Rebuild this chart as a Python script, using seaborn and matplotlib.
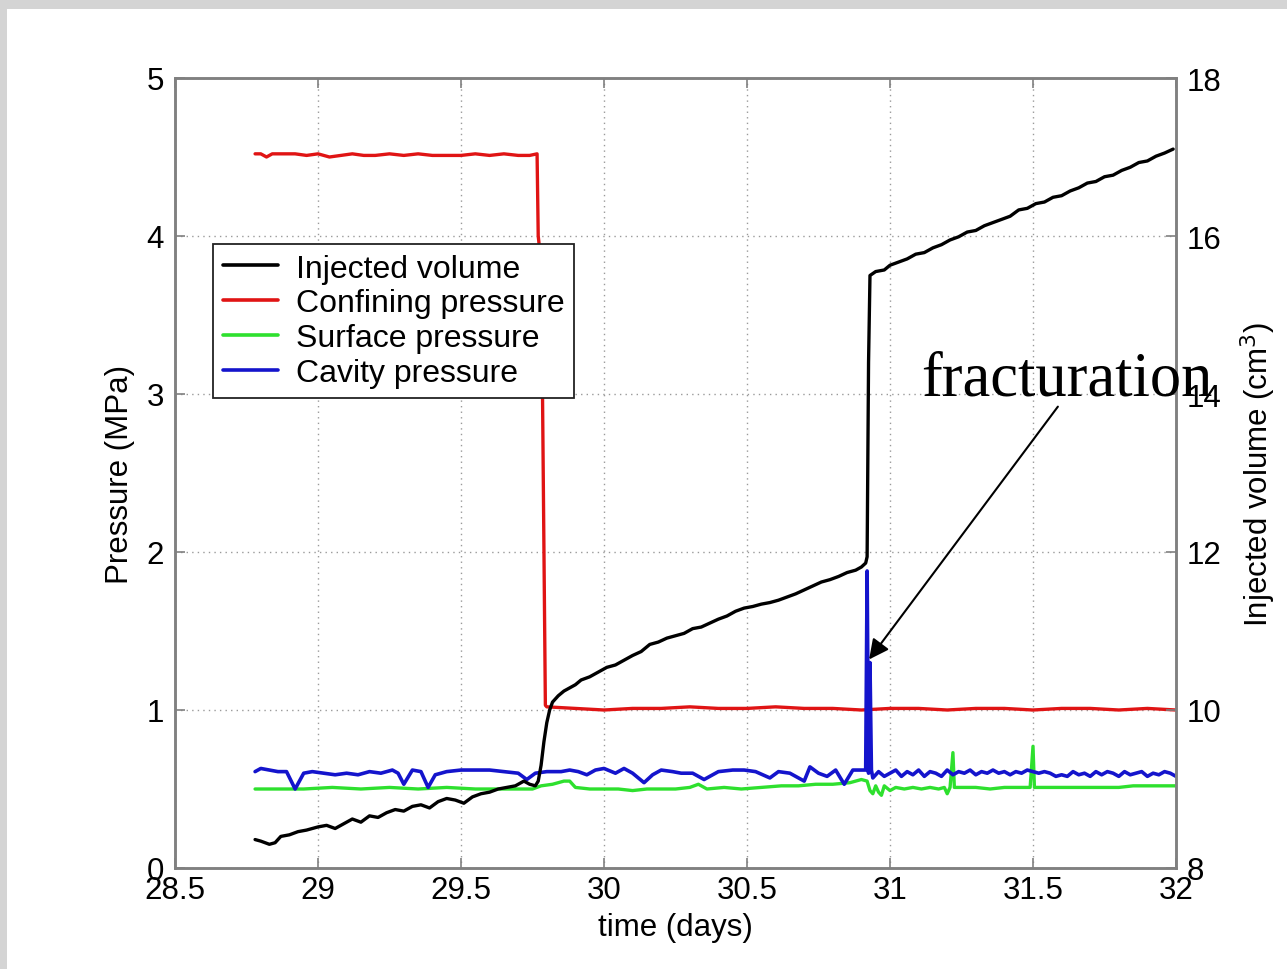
import matplotlib
matplotlib.use("Agg")
import matplotlib.pyplot as plt
from matplotlib.lines import Line2D
from matplotlib.patches import Rectangle
import seaborn as sns
import pandas as pd

# ---------------- data ----------------
t_volume = [28.78, 28.80, 28.83, 28.85, 28.87, 28.90, 28.93, 28.96, 29.00, 29.03,
            29.06, 29.09, 29.12, 29.15, 29.18, 29.21, 29.24, 29.27, 29.30, 29.33,
            29.36, 29.39, 29.42, 29.45, 29.48, 29.51, 29.54, 29.57, 29.60, 29.63,
            29.66, 29.69, 29.72, 29.74, 29.76, 29.77, 29.78, 29.79, 29.80, 29.81,
            29.82, 29.84, 29.86, 29.88, 29.90, 29.92, 29.95, 29.98, 30.01, 30.04,
            30.07, 30.10, 30.13, 30.16, 30.19, 30.22, 30.25, 30.28, 30.31, 30.34,
            30.37, 30.40, 30.43, 30.46, 30.49, 30.52, 30.55, 30.58, 30.61, 30.64,
            30.67, 30.70, 30.73, 30.76, 30.79, 30.82, 30.85, 30.88, 30.90, 30.915,
            30.92, 30.925, 30.93, 30.95, 30.98, 31.00, 31.03, 31.06, 31.09, 31.12,
            31.15, 31.18, 31.21, 31.24, 31.27, 31.30, 31.33, 31.36, 31.39, 31.42,
            31.45, 31.48, 31.51, 31.54, 31.57, 31.60, 31.63, 31.66, 31.69, 31.72,
            31.75, 31.78, 31.81, 31.84, 31.87, 31.90, 31.93, 31.96, 31.99]
injected_volume = [8.36, 8.34, 8.30, 8.32, 8.40, 8.42, 8.46, 8.48, 8.52, 8.54,
                   8.50, 8.56, 8.62, 8.58, 8.66, 8.64, 8.70, 8.74, 8.72, 8.78,
                   8.80, 8.76, 8.84, 8.88, 8.86, 8.82, 8.90, 8.94, 8.96, 9.00,
                   9.02, 9.04, 9.10, 9.06, 9.04, 9.10, 9.30, 9.60, 9.84, 10.00,
                   10.10, 10.18, 10.24, 10.28, 10.32, 10.38, 10.42, 10.48, 10.54, 10.57,
                   10.63, 10.69, 10.74, 10.83, 10.86, 10.91, 10.94, 10.97, 11.03, 11.05,
                   11.10, 11.15, 11.19, 11.25, 11.29, 11.31, 11.34, 11.36, 11.39, 11.43,
                   11.47, 11.52, 11.57, 11.62, 11.65, 11.69, 11.74, 11.77, 11.81, 11.86,
                   11.94, 14.40, 15.50, 15.55, 15.57, 15.63, 15.67, 15.71, 15.77, 15.79,
                   15.85, 15.89, 15.95, 15.99, 16.05, 16.07, 16.13, 16.17, 16.21, 16.25,
                   16.33, 16.35, 16.41, 16.43, 16.49, 16.51, 16.57, 16.61, 16.67, 16.69,
                   16.75, 16.77, 16.83, 16.87, 16.93, 16.95, 17.01, 17.05, 17.10]

t_confining = [28.78, 28.80, 28.82, 28.84, 28.88, 28.92, 28.96, 29.00, 29.04, 29.08,
               29.12, 29.16, 29.20, 29.25, 29.30, 29.35, 29.40, 29.45, 29.50, 29.55,
               29.60, 29.65, 29.70, 29.74, 29.766, 29.770, 29.776, 29.785, 29.795, 29.80,
               29.90, 30.00, 30.10, 30.20, 30.30, 30.40, 30.50, 30.60, 30.70, 30.80,
               30.90, 31.00, 31.10, 31.20, 31.30, 31.40, 31.50, 31.60, 31.70, 31.80,
               31.90, 32.00]
confining_pressure = [4.52, 4.52, 4.50, 4.52, 4.52, 4.52, 4.51, 4.52, 4.50, 4.51,
                      4.52, 4.51, 4.51, 4.52, 4.51, 4.52, 4.51, 4.51, 4.51, 4.52,
                      4.51, 4.52, 4.51, 4.51, 4.52, 4.00, 3.90, 3.00, 1.03, 1.02,
                      1.01, 1.00, 1.01, 1.01, 1.02, 1.01, 1.01, 1.02, 1.01, 1.01,
                      1.00, 1.01, 1.01, 1.00, 1.01, 1.01, 1.00, 1.01, 1.01, 1.00,
                      1.01, 1.00]

t_surface = [28.78, 28.85, 28.95, 29.05, 29.15, 29.25, 29.35, 29.45, 29.55, 29.65,
             29.75, 29.78, 29.82, 29.86, 29.88, 29.90, 29.95, 30.00, 30.05, 30.10,
             30.15, 30.20, 30.25, 30.30, 30.33, 30.36, 30.42, 30.48, 30.55, 30.62,
             30.68, 30.74, 30.80, 30.86, 30.90, 30.92, 30.93, 30.94, 30.95, 30.96,
             30.97, 30.98, 31.00, 31.02, 31.05, 31.08, 31.11, 31.14, 31.17, 31.19,
             31.20, 31.21, 31.22, 31.225, 31.25, 31.30, 31.35, 31.40, 31.45, 31.49,
             31.50, 31.505, 31.55, 31.60, 31.65, 31.70, 31.75, 31.80, 31.85, 31.90,
             31.95, 32.00]
surface_pressure = [0.50, 0.50, 0.50, 0.51, 0.50, 0.51, 0.50, 0.51, 0.50, 0.50,
                    0.50, 0.52, 0.53, 0.55, 0.55, 0.51, 0.50, 0.50, 0.50, 0.49,
                    0.50, 0.50, 0.50, 0.51, 0.53, 0.50, 0.51, 0.50, 0.51, 0.52,
                    0.52, 0.53, 0.53, 0.54, 0.56, 0.55, 0.49, 0.47, 0.52, 0.48,
                    0.46, 0.52, 0.49, 0.51, 0.50, 0.51, 0.50, 0.51, 0.50, 0.51,
                    0.47, 0.51, 0.73, 0.51, 0.51, 0.51, 0.50, 0.51, 0.51, 0.51,
                    0.77, 0.51, 0.51, 0.51, 0.51, 0.51, 0.51, 0.51, 0.52, 0.52,
                    0.52, 0.52]

t_cavity = [28.78, 28.80, 28.83, 28.86, 28.89, 28.92, 28.95, 28.98, 29.02, 29.06,
            29.10, 29.14, 29.18, 29.22, 29.26, 29.28, 29.30, 29.33, 29.36, 29.385,
            29.41, 29.45, 29.50, 29.55, 29.60, 29.65, 29.70, 29.73, 29.76, 29.80,
            29.85, 29.88, 29.91, 29.94, 29.97, 30.00, 30.04, 30.07, 30.10, 30.14,
            30.17, 30.20, 30.24, 30.27, 30.31, 30.35, 30.40, 30.45, 30.49, 30.53,
            30.58, 30.61, 30.65, 30.70, 30.72, 30.75, 30.78, 30.81, 30.84, 30.87,
            30.90, 30.915, 30.920, 30.925, 30.930, 30.935, 30.94, 30.96, 30.98, 31.00,
            31.02, 31.04, 31.06, 31.08, 31.10, 31.12, 31.14, 31.16, 31.18, 31.20,
            31.22, 31.24, 31.26, 31.28, 31.30, 31.32, 31.34, 31.36, 31.38, 31.40,
            31.42, 31.44, 31.46, 31.48, 31.50, 31.52, 31.54, 31.56, 31.58, 31.60,
            31.62, 31.64, 31.66, 31.68, 31.70, 31.72, 31.74, 31.76, 31.78, 31.80,
            31.82, 31.84, 31.86, 31.88, 31.90, 31.92, 31.94, 31.96, 31.98, 32.00]
cavity_pressure = [0.61, 0.63, 0.62, 0.61, 0.61, 0.50, 0.60, 0.61, 0.60, 0.59,
                   0.60, 0.59, 0.61, 0.60, 0.62, 0.60, 0.53, 0.62, 0.61, 0.51,
                   0.59, 0.61, 0.62, 0.62, 0.62, 0.61, 0.60, 0.56, 0.60, 0.61,
                   0.61, 0.62, 0.61, 0.59, 0.62, 0.63, 0.60, 0.63, 0.60, 0.54,
                   0.59, 0.62, 0.61, 0.60, 0.60, 0.56, 0.61, 0.62, 0.62, 0.61,
                   0.57, 0.61, 0.60, 0.55, 0.64, 0.60, 0.58, 0.62, 0.53, 0.62,
                   0.62, 0.62, 1.88, 0.60, 1.30, 0.62, 0.57, 0.61, 0.58, 0.60,
                   0.62, 0.58, 0.61, 0.59, 0.62, 0.58, 0.61, 0.60, 0.58, 0.62,
                   0.59, 0.61, 0.60, 0.62, 0.59, 0.61, 0.60, 0.62, 0.60, 0.61,
                   0.59, 0.61, 0.60, 0.62, 0.61, 0.60, 0.61, 0.60, 0.58, 0.59,
                   0.58, 0.61, 0.59, 0.60, 0.58, 0.61, 0.59, 0.61, 0.60, 0.58,
                   0.61, 0.59, 0.60, 0.61, 0.58, 0.60, 0.59, 0.61, 0.60, 0.58]

x_ticks = [28.5, 29, 29.5, 30, 30.5, 31, 31.5, 32]
x_tick_labels = ["28.5", "29", "29.5", "30", "30.5", "31", "31.5", "32"]
left_ticks = [0, 1, 2, 3, 4, 5]
right_ticks = [8, 10, 12, 14, 16, 18]
legend_labels = ["Injected volume", "Confining pressure", "Surface pressure", "Cavity pressure"]

# ---------------- style ----------------
sns.set_style("white")
plt.rcParams["font.family"] = ["Liberation Sans", "DejaVu Sans"]
plt.rcParams["text.color"] = "black"
plt.rcParams["axes.labelcolor"] = "black"
plt.rcParams["xtick.color"] = "black"
plt.rcParams["ytick.color"] = "black"

C_BLACK = "#000000"
C_RED = "#e01414"
C_GREEN = "#2ee02e"
C_BLUE = "#1414cc"
SPINE = "#808080"

fig = plt.figure(figsize=(12.87, 9.70), dpi=100)
fig.patch.set_facecolor("#d4d4d4")
fig.patches.append(Rectangle((7 / 1287, 0), 1 - 7 / 1287, 1 - 10 / 970,
                             transform=fig.transFigure, facecolor="white",
                             edgecolor="none", zorder=-10))

ax = fig.add_axes([175 / 1287, 101 / 970, 1001 / 1287, 790 / 970])
ax.set_facecolor("white")
ax2 = ax.twinx()

df_conf = pd.DataFrame({"t": t_confining, "p": confining_pressure})
df_surf = pd.DataFrame({"t": t_surface, "p": surface_pressure})
df_cav = pd.DataFrame({"t": t_cavity, "p": cavity_pressure})
df_vol = pd.DataFrame({"t": t_volume, "v": injected_volume})

lw = 2.4
sns.lineplot(data=df_conf, x="t", y="p", ax=ax, color=C_RED, lw=lw, estimator=None, sort=False)
sns.lineplot(data=df_surf, x="t", y="p", ax=ax, color=C_GREEN, lw=lw, estimator=None, sort=False)
sns.lineplot(data=df_cav, x="t", y="p", ax=ax, color=C_BLUE, lw=2.6, estimator=None, sort=False)
sns.lineplot(data=df_vol, x="t", y="v", ax=ax2, color=C_BLACK, lw=lw, estimator=None, sort=False)

ax.set_xlim(28.5, 32)
ax.set_ylim(0, 5)
ax2.set_ylim(8, 18)
ax.set_xticks(x_ticks)
ax.set_xticklabels(x_tick_labels)
ax.set_yticks(left_ticks)
ax2.set_yticks(right_ticks)

ax.grid(True, color="#9a9a9a", linestyle=(0, (1, 3)), lw=1.0)
ax2.grid(False)

FS = 22.5
ax.set_xlabel("time (days)", fontsize=FS, labelpad=5)
ax.set_ylabel("Pressure (MPa)", fontsize=FS, labelpad=8)
ax2.set_ylabel("Injected volume (cm$^3$)", fontsize=FS, labelpad=12)

for a in (ax, ax2):
    for s in a.spines.values():
        s.set_color(SPINE)
        s.set_linewidth(1.8)
        s.set_visible(True)
ax.tick_params(axis="x", direction="in", length=7, width=1.2, color=SPINE,
               labelcolor="black", labelsize=FS, top=True, bottom=True, pad=5)
ax.tick_params(axis="y", direction="in", length=7, width=1.2, color=SPINE,
               labelcolor="black", labelsize=FS, left=True, right=False, pad=8)
ax2.tick_params(axis="y", direction="in", length=7, width=1.2, color=SPINE,
                labelcolor="black", labelsize=FS, right=True, pad=8)

handles = [Line2D([], [], color=c, lw=2.6) for c in (C_BLACK, C_RED, C_GREEN, C_BLUE)]
leg = ax2.legend(handles, legend_labels, loc="upper left",
                 bbox_to_anchor=(213 / 1287, 1 - 245 / 970), bbox_transform=fig.transFigure,
                 fontsize=23, frameon=True, fancybox=False, framealpha=1,
                 edgecolor="#222222", handlelength=1.75, handletextpad=0.55,
                 labelspacing=0.15, borderpad=0.3, borderaxespad=0)
leg.get_frame().set_linewidth(1.3)
for txt in leg.get_texts():
    txt.set_color("black")

# annotation (placed in right-axis units: V = 8 + 2 P)
ax2.text(31.11, 14.0, "fracturation", fontsize=45, color="black",
         family=["Liberation Serif", "DejaVu Serif"], ha="left", va="baseline",
         clip_on=False, zorder=10)
ax2.annotate("", xy=(30.927, 10.64), xytext=(31.587, 13.84),
             arrowprops=dict(arrowstyle="-|>", color="black", lw=1.5,
                             mutation_scale=30, shrinkA=0, shrinkB=0),
             zorder=10)

fig.savefig("out.png", dpi=100, facecolor=fig.get_facecolor())
